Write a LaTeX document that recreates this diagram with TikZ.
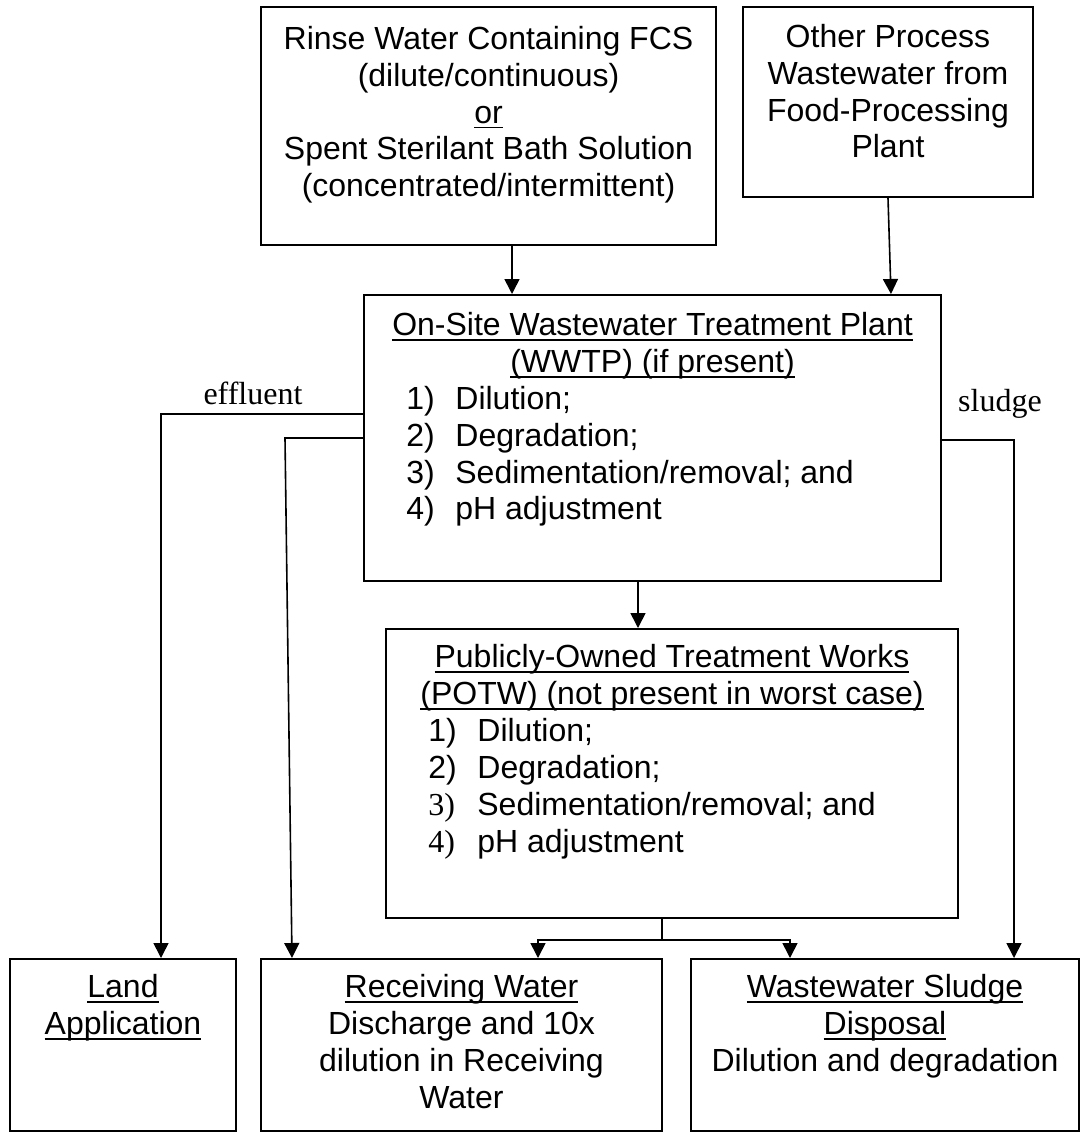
\documentclass[tikz,border=0pt]{standalone}
\usepackage{fontspec}
\setmainfont{Liberation Sans}
\newfontfamily\labelfont{Liberation Serif}
\usetikzlibrary{arrows.meta,positioning}
\newcommand{\ulined}[1]{\setbox0\hbox{#1}\rlap{\rule[-2.6pt]{\wd0}{0.9pt}}#1}

\begin{document}
\begin{tikzpicture}[
    x=0.5pt, y=-0.5pt,
    type-box/.style={rectangle, draw, line width=1pt, inner sep=0pt, anchor=north west},
    type-text/.style={inner sep=0pt, align=center, anchor=north, font=\fontsize{16}{18.4}\selectfont},
    type-list/.style={inner sep=0pt, align=left, anchor=north west, font=\fontsize{16}{18.4}\selectfont},
    type-label/.style={inner sep=0pt, anchor=base, font=\labelfont\fontsize{16}{18.4}\selectfont},
    flow/.style={line width=0.8pt, -{Triangle[length=7.5pt, width=7.5pt]}},
    link/.style={line width=0.8pt}
  ]
  \useasboundingbox (0,0) rectangle (1081,1136);

  % boxes
  \node[type-box, minimum width=227.5pt, minimum height=119pt] (rinse) at (260,6) {};
  \node[type-box, minimum width=145pt, minimum height=95pt] (other) at (742,6) {};
  \node[type-box, minimum width=288.5pt, minimum height=143pt] (wwtp) at (363,294) {};
  \node[type-box, minimum width=286pt, minimum height=144.5pt] (potw) at (385,628) {};
  \node[type-box, minimum width=113pt, minimum height=86pt] (land) at (9,958) {};
  \node[type-box, minimum width=200.5pt, minimum height=86pt] (recv) at (260,958) {};
  \node[type-box, minimum width=194pt, minimum height=86pt] (sludge) at (690,958) {};

  % texts
  \node[type-text, below=10pt of rinse.north] (rinse-text) {Rinse Water Containing FCS\\(dilute/continuous)\\\ulined{or}\\Spent Sterilant Bath Solution\\(concentrated/intermittent)};
  \node[type-text, below=9pt of other.north] (other-text) {Other Process\\Wastewater from\\Food-Processing\\Plant};

  \node[type-text, below=9pt of wwtp.north] (wwtp-head) {\ulined{On-Site Wastewater Treatment Plant}\\\ulined{(WWTP) (if present)}};
  \node[type-list, below right=46pt and 21.5pt of wwtp.north west] (wwtp-num) {1)\\2)\\3)\\4)};
  \node[type-list, below right=46pt and 46pt of wwtp.north west] (wwtp-list) {Dilution;\\Degradation;\\Sedimentation/removal; and\\pH adjustment};

  \node[type-text, below=8pt of potw.north] (potw-head) {\ulined{Publicly-Owned Treatment Works}\\\ulined{(POTW) (not present in worst case)}};
  \node[type-list, below right=45pt and 21.5pt of potw.north west] (potw-num) {1)\\2)\\{\labelfont 3)}\\{\labelfont 4)}};
  \node[type-list, below right=45pt and 46pt of potw.north west] (potw-list) {Dilution;\\Degradation;\\Sedimentation/removal; and\\pH adjustment};

  \node[type-text, below=8pt of land.north] (land-text) {\ulined{Land}\\\ulined{Application}};
  \node[type-text, below=8pt of recv.north] (recv-text) {\ulined{Receiving Water}\\Discharge and 10x\\dilution in Receiving\\Water};
  \node[type-text, below=8pt of sludge.north] (sludge-text) {\ulined{Wastewater Sludge}\\\ulined{Disposal}\\Dilution and degradation};

  \node[type-label] (effluent-label) at (253,404) {effluent};
  \node[type-label] (sludge-label) at (1000,411) {sludge};

  % connectors
  \draw[flow] ([xshift=11.75pt]rinse.south) -- ([xshift=-70.25pt]wwtp.north);
  \draw[flow] (other.south) -- ([xshift=119.25pt]wwtp.north);
  \draw[flow] ([xshift=-7.25pt]wwtp.south) -- ([xshift=-17pt]potw.north);
  \draw[flow] ([yshift=12pt]wwtp.west) -| ([xshift=19pt]land.north);
  \draw[flow] (wwtp.west) -- ++(-39pt,0) -- ([xshift=-84.75pt]recv.north);
  \draw[flow] ([yshift=-1pt]wwtp.east) -| ([xshift=64.5pt]sludge.north);
  \draw[link] ([xshift=-5pt]potw.south) -- ++(0,-10.5pt) coordinate (split);
  \draw[flow] (split) -| ([xshift=38.25pt]recv.north);
  \draw[flow] (split) -| ([xshift=-47.5pt]sludge.north);
\end{tikzpicture}
\end{document}
